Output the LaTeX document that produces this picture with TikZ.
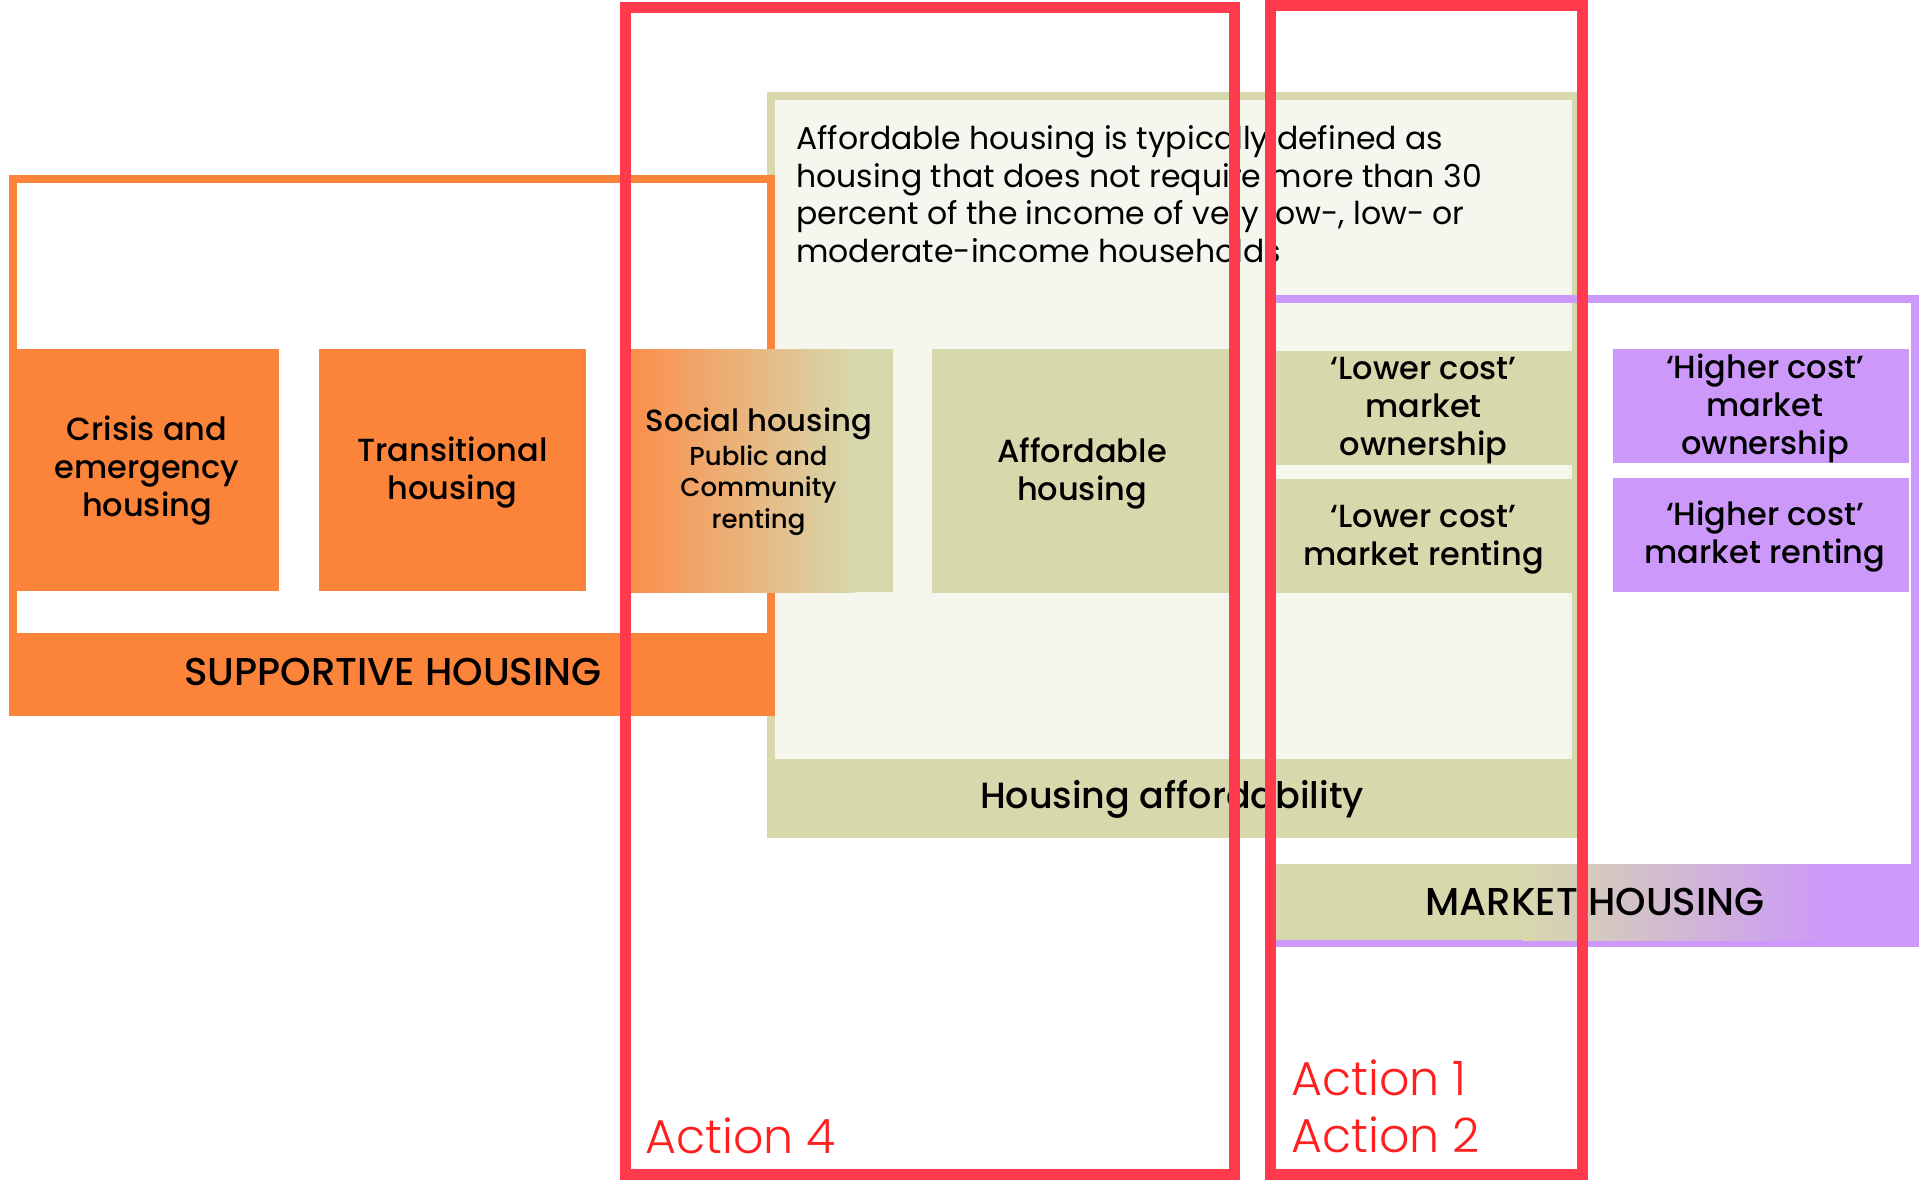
\documentclass[tikz,border=0pt]{standalone}
\usepackage{fontspec}
\setmainfont{Poppins}
\newfontfamily\medfont{Poppins Medium}
\newfontfamily\lightfont{Poppins Light}
\definecolor{orangeC}{HTML}{FC833A}
\definecolor{khakiC}{HTML}{D7D8AC}
\definecolor{lightC}{HTML}{F5F6EE}
\definecolor{purpleC}{HTML}{CC99FA}
\definecolor{redC}{HTML}{FF3A4C}
\definecolor{actC}{HTML}{FF1F1F}
\begin{document}
\begin{tikzpicture}[x=1pt,y=-1pt,
  lbl/.style={font=\medfont\fontsize{32}{38}\selectfont, align=center, text=black, inner sep=0, anchor=base},
  body/.style={font=\fontsize{31.5}{37.5}\selectfont, align=left, text=black, inner sep=0},
  bar/.style={font=\medfont\fontsize{38.8}{40}\selectfont, text=black, inner sep=0, anchor=base},
  act/.style={font=\lightfont\fontsize{47.5}{57}\selectfont, text=actC, inner sep=0, anchor=base west},
  redframe/.style={draw=redC, line width=11}
]
\useasboundingbox (0,0) rectangle (1921,1180);
% Housing affordability frame
\filldraw[fill=lightC, draw=khakiC, line width=8] (771,96) rectangle (1576,834);
\fill[khakiC] (767,759) rectangle (1580,838);
% Supportive housing frame
\fill[white] (16.5,183) rectangle (767,633);
\draw[orangeC, line width=8] (12.5,179) rectangle (771,712);
\fill[orangeC] (8.5,633) rectangle (775,716);
% Market housing frame
\draw[purpleC, line width=8] (1272,299) rectangle (1915,943);
\fill[khakiC] (1270,864) rectangle (1523,940);
\shade[left color=khakiC, right color=purpleC] (1523,864) rectangle (1830,940);
\fill[purpleC] (1830,864) rectangle (1911,940);
% boxes
\fill[orangeC] (16.5,349) rectangle (279,591);
\fill[orangeC] (319,349) rectangle (586,591);
\shade[left color=orangeC!92!white, right color=khakiC] (626,349) rectangle (855,592);
\fill[khakiC] (855,349) rectangle (893,592);
\fill[khakiC] (932,349) rectangle (1232,593);
\fill[khakiC] (1272,351) rectangle (1574,465);
\fill[khakiC] (1272,479) rectangle (1574,593);
\fill[purpleC] (1613,349) rectangle (1909,463);
\fill[purpleC] (1613,478) rectangle (1909,591.5);
% texts
\node[lbl] (crisis) at (147,516) {Crisis and\\emergency\\housing};
\node[lbl] (trans) at (452.5,499) {Transitional\\housing};
\node[lbl, font=\medfont\fontsize{30.7}{34}\selectfont] (social) at (759,431) {Social housing};
\node[lbl, font=\medfont\fontsize{26}{31.5}\selectfont] (socialsub) at (758.5,528) {Public and\\Community\\renting};
\node[lbl] (afford) at (1082,500) {Affordable\\housing};
\node[lbl] (lco) at (1423.5,455) {‘Lower cost’\\market\\ownership};
\node[lbl] (lcr) at (1423.5,565) {‘Lower cost’\\market renting};
\node[lbl] (hco) at (1765,454) {‘Higher cost’\\market\\ownership};
\node[lbl] (hcr) at (1765,563) {‘Higher cost’\\market renting};
\node[body, anchor=base west] (def) at (796,262) {Affordable housing is typically defined as\\housing that does not require more than 30\\percent of the income of very low-, low- or\\moderate-income households};
\node[bar] (supp) at (393,685) {SUPPORTIVE HOUSING};
\node[lbl, font=\medfont\fontsize{36.5}{40}\selectfont] (hafford) at (1172,808) {Housing affordability};
\node[bar] (market) at (1595,915) {MARKET HOUSING};
% red frames
\draw[redframe] (625.5,7.5) rectangle (1234.5,1174.5);
\draw[redframe] (1270.5,6) rectangle (1582.5,1174.5);
\node[act] (a4) at (645,1153.3) {Action 4};
\node[act] (a1) at (1291,1095) {Action 1};
\node[act] (a2) at (1291,1152) {Action 2};
\end{tikzpicture}
\end{document}
